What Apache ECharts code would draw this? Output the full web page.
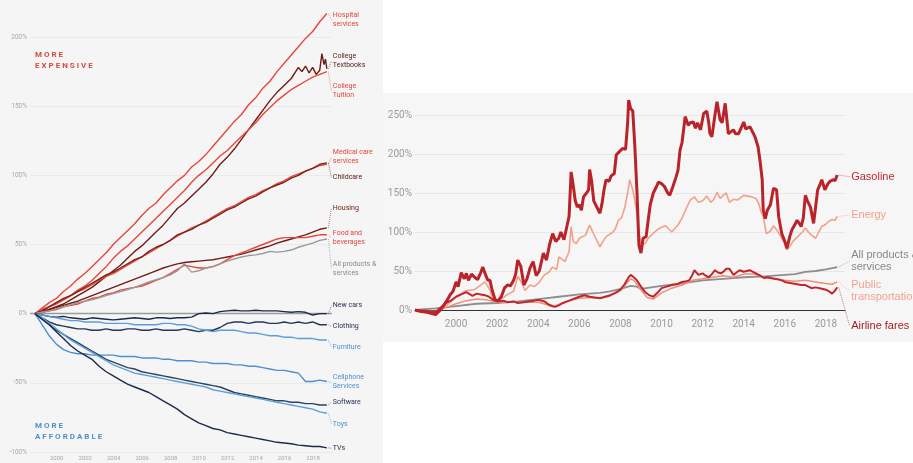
<!DOCTYPE html>
<html>
<head>
<meta charset="utf-8">
<script src="https://cdn.jsdelivr.net/npm/echarts@6/dist/echarts.min.js"></script>
<style>
  html, body { margin: 0; padding: 0; background: #ffffff; }
  #chart { width: 913px; height: 463px; }
</style>
</head>
<body>
<div id="chart"></div>
<script>
// ---------- Left panel: cumulative price change since 1998 (%) ----------
const leftYears = [1998, 1998.5, 1999, 1999.5, 2000, 2000.5, 2001, 2001.5, 2002, 2002.5,
  2003, 2003.5, 2004, 2004.5, 2005, 2005.5, 2006, 2006.5, 2007, 2007.5,
  2008, 2008.5, 2009, 2009.5, 2010, 2010.5, 2011, 2011.5, 2012, 2012.5,
  2013, 2013.5, 2014, 2014.5, 2015, 2015.5, 2016, 2016.5, 2017, 2017.5,
  2018, 2018.5];
const leftTickYears = [2000, 2002, 2004, 2006, 2008, 2010, 2012, 2014, 2016, 2018];
const leftValueTicks = [-100, -50, 0, 50, 100, 150, 200];

const hospitalServices = [0, 4, 8, 11, 16, 20, 25, 29, 34, 39, 44, 50, 55, 60, 65, 71, 76, 80, 86, 91,
  96, 100, 106, 110, 115, 121, 127, 133, 139, 144, 151, 156, 163, 168, 175, 181, 187, 193, 199, 204, 211, 217];
const collegeTuition = [0, 2, 5, 7, 10, 13, 17, 20, 24, 29, 34, 40, 45, 49, 54, 59, 64, 69, 74, 79,
  84, 89, 95, 100, 104, 109, 114, 118, 123, 128, 133, 138, 144, 149, 154, 158, 162, 165, 168, 171, 173, 175];
const textbookYears = [1998, 1998.5, 1999, 1999.5, 2000, 2000.5, 2001, 2001.5, 2002, 2002.5,
  2003, 2003.5, 2004, 2004.5, 2005, 2005.5, 2006, 2006.5, 2007, 2007.5,
  2008, 2008.5, 2009, 2009.5, 2010, 2010.5, 2011, 2011.5, 2012, 2012.5,
  2013, 2013.5, 2014, 2014.5, 2015, 2015.5, 2016, 2016.5, 2016.75, 2017, 2017.25, 2017.5, 2017.75,
  2018, 2018.15, 2018.3, 2018.4, 2018.5];
const collegeTextbooks = [0, 1, 3, 5, 7, 10, 13, 16, 19, 23, 27, 31, 35, 40, 45, 49, 54, 59, 64, 70,
  76, 80, 85, 90, 95, 101, 108, 113, 119, 126, 133, 140, 147, 154, 160, 165, 170, 178, 175, 179, 174, 178, 173,
  176, 188, 180, 184, 177];
const medicalCare = [0, 3, 5, 8, 10, 13, 16, 18, 21, 24, 27, 29, 32, 35, 38, 41, 44, 47, 50, 53,
  56, 59, 62, 64, 67, 70, 73, 76, 78, 81, 84, 86, 89, 91, 94, 96, 99, 101, 103, 105, 107, 108];
const childcare = [0, 2, 5, 8, 11, 13, 16, 19, 22, 25, 28, 30, 33, 36, 39, 41, 45, 48, 50, 53,
  57, 59, 61, 64, 66, 69, 72, 75, 77, 80, 83, 85, 88, 91, 93, 95, 98, 100, 103, 105, 108, 109];
const housing = [0, 1.5, 3, 4.5, 6, 7.5, 9, 11, 13, 15, 17, 19, 21, 23, 25, 27, 29, 31, 33, 34.5,
  36, 37, 37.5, 38, 38.5, 39, 40, 41, 42, 43, 44.5, 46, 47.5, 49, 51, 52.5, 54, 55.5, 57, 59, 61, 62];
const foodBeverages = [0, 1, 2, 3, 5, 6, 7, 9, 11, 12, 14, 15, 17, 18, 19, 20, 22, 24, 26, 29,
  32, 35, 34, 33, 33, 34, 36, 39, 42, 44, 46, 48, 50, 52, 54, 55, 55, 55, 55, 56, 57, 57];
const allProductsLeft = [0, 1, 2, 3.5, 5, 6.5, 8, 9, 10, 11.5, 13, 14.5, 16, 17.5, 19, 21, 23, 24.5, 26, 28,
  31, 36, 30, 31, 33, 34, 36, 38, 39.5, 41, 42, 42.5, 43.5, 45, 44.5, 45, 46, 48, 49.5, 51, 53, 54];
const newCars = [0, -1, -2, -2.5, -2, -3, -3.5, -4, -3, -3.5, -4, -4.5, -4, -3.5, -3, -3.5, -4, -3, -3, -3.5,
  -3, -3, -2.5, 0, 0.5, 0, 1.5, 2, 2.5, 2, 2, 2.5, 2, 2, 2, 1.5, 1, 1.5, 1, -1, 0, 0];
const clothing = [0, -3, -6, -8, -9, -10, -11, -11, -12, -12, -11, -12, -12, -11, -11, -12, -12, -11, -12, -12,
  -12, -11, -12, -13, -12, -12, -10, -7, -6, -6, -7, -6, -6, -7, -7, -6, -7, -6, -7, -6, -8, -8];
const furniture = [0, -1, -2, -3, -4, -5, -5, -6, -6, -6, -7, -7, -7, -7, -8, -8, -8, -8, -7, -7,
  -8, -8, -9, -11, -12, -13, -12, -12, -12, -13, -14, -14, -15, -16, -16, -17, -17, -18, -18, -18, -19, -19];
const cellphoneServices = [0, -8, -16, -22, -26, -28, -29, -29, -30, -30, -30, -30, -31, -31, -31, -32, -32, -32, -33, -33,
  -34, -34, -34, -35, -35, -36, -36, -36, -37, -37, -38, -38, -39, -40, -41, -41, -42, -43, -49, -49, -48, -49];
const software = [0, -4, -8, -12, -15, -18, -21, -24, -27, -30, -33, -35, -37, -39, -40, -42, -43, -44, -45, -46,
  -47, -48, -49, -50, -51, -52, -53, -55, -57, -58, -59, -60, -61, -62, -63, -63, -64, -64, -65, -65, -66, -66];
const toys = [0, -3, -7, -11, -15, -19, -22, -25, -28, -31, -34, -37, -39, -41, -43, -44, -45, -46, -47, -48,
  -49, -50, -51, -52, -53, -55, -56, -57, -58, -59, -60, -61, -62, -63, -64, -65, -66, -67, -68, -69, -71, -72];
const tvs = [0, -4, -8, -13, -18, -23, -27, -30, -33, -38, -42, -45, -48, -51, -53, -55, -57, -60, -63, -66,
  -69, -73, -76, -79, -81, -83, -84, -86, -87, -88, -89, -90, -91, -92, -93, -93.5, -94, -95, -95.5, -96, -96, -97];

// ---------- Right panel: energy and transport price change since 1998 (%) ----------
const rightTickYears = [2000, 2002, 2004, 2006, 2008, 2010, 2012, 2014, 2016, 2018];
const gasoline = [[1998.0,0],[1998.3,-2],[1998.6,-3],[1999.0,-6],[1999.2,-1],[1999.4,6],[1999.55,12],[1999.7,19],[1999.85,24],
  [2000.0,36],[2000.1,30],[2000.25,48],[2000.4,40],[2000.5,47],[2000.6,38],[2000.75,46],[2000.9,42],[2001.05,39],[2001.2,48],
  [2001.3,55],[2001.45,44],[2001.55,38],[2001.65,38],[2001.75,26],[2001.9,13],[2002.05,12],[2002.2,17],[2002.35,28],[2002.5,32],
  [2002.65,31],[2002.8,38],[2002.9,46],[2003.0,64],[2003.15,56],[2003.3,32],[2003.45,40],[2003.6,54],[2003.75,62],[2003.9,44],
  [2004.05,50],[2004.25,73],[2004.4,64],[2004.55,84],[2004.7,98],[2004.85,88],[2005.0,92],[2005.1,100],[2005.25,90],[2005.4,108],
  [2005.5,120],[2005.6,177],[2005.7,160],[2005.8,140],[2005.9,132],[2006.0,135],[2006.1,128],[2006.2,145],[2006.35,150],
  [2006.45,154],[2006.5,180],[2006.6,165],[2006.7,140],[2006.85,132],[2007.0,124],[2007.1,136],[2007.2,154],[2007.3,167],
  [2007.45,165],[2007.55,172],[2007.7,175],[2007.8,199],[2007.95,203],[2008.1,207],[2008.25,206],[2008.35,240],[2008.4,269],
  [2008.5,258],[2008.6,255],[2008.7,210],[2008.8,154],[2008.9,83],[2009.0,73],[2009.1,92],[2009.25,94],[2009.35,115],
  [2009.45,135],[2009.6,150],[2009.75,158],[2009.85,164],[2010.0,162],[2010.15,158],[2010.3,150],[2010.4,147],[2010.55,158],
  [2010.7,170],[2010.8,179],[2010.9,205],[2011.0,215],[2011.15,248],[2011.3,237],[2011.4,240],[2011.55,241],[2011.65,233],
  [2011.75,240],[2011.9,231],[2012.05,252],[2012.2,255],[2012.3,240],[2012.35,227],[2012.45,222],[2012.6,250],[2012.7,267],
  [2012.85,244],[2012.95,240],[2013.1,265],[2013.25,226],[2013.35,228],[2013.5,231],[2013.6,226],[2013.75,226],[2013.85,232],
  [2014.0,241],[2014.1,232],[2014.15,231],[2014.3,235],[2014.4,230],[2014.55,222],[2014.7,209],[2014.8,190],[2014.9,167],
  [2014.95,128],[2015.05,117],[2015.15,128],[2015.3,135],[2015.45,156],[2015.6,154],[2015.7,120],[2015.85,98],[2016.0,88],
  [2016.1,79],[2016.25,95],[2016.35,103],[2016.5,110],[2016.6,115],[2016.8,107],[2016.9,118],[2017.0,147],[2017.1,140],
  [2017.25,132],[2017.35,118],[2017.4,111],[2017.5,132],[2017.6,154],[2017.7,160],[2017.8,167],[2017.95,154],[2018.1,162],
  [2018.2,165],[2018.35,167],[2018.45,166],[2018.55,173]];
const energy = [[1998.0,0],[1998.5,-2],[1999.0,-3],[1999.5,5],[2000.0,17],[2000.3,22],[2000.5,25],[2000.9,26],[2001.2,32],
  [2001.4,36],[2001.6,28],[2001.8,15],[2002.0,13],[2002.3,16],[2002.5,20],[2002.8,24],[2003.0,43],[2003.2,35],[2003.35,25],
  [2003.6,32],[2003.8,30],[2004.0,34],[2004.3,45],[2004.5,48],[2004.7,55],[2004.9,52],[2005.0,68],[2005.3,62],[2005.5,75],
  [2005.6,107],[2005.7,88],[2005.85,85],[2006.0,92],[2006.3,96],[2006.5,109],[2006.65,100],[2006.8,92],[2007.0,81],[2007.15,88],
  [2007.3,94],[2007.6,99],[2007.75,104],[2007.9,115],[2008.05,118],[2008.2,130],[2008.35,150],[2008.45,167],[2008.6,154],
  [2008.7,140],[2008.8,124],[2008.9,100],[2009.0,85],[2009.2,85],[2009.35,92],[2009.5,96],[2009.8,103],[2010.0,106],[2010.2,108],
  [2010.5,100],[2010.8,109],[2011.0,118],[2011.2,130],[2011.4,141],[2011.6,145],[2011.8,138],[2012.0,140],[2012.2,146],
  [2012.4,138],[2012.55,142],[2012.7,151],[2012.85,143],[2013.0,147],[2013.15,150],[2013.3,138],[2013.5,142],[2013.7,141],
  [2013.85,144],[2014.0,147],[2014.2,146],[2014.4,145],[2014.6,143],[2014.75,135],[2014.85,125],[2014.95,120],[2015.1,98],
  [2015.3,101],[2015.45,108],[2015.6,103],[2015.8,94],[2016.0,85],[2016.1,77],[2016.25,82],[2016.4,88],[2016.7,96],[2016.85,100],
  [2017.0,105],[2017.15,100],[2017.3,96],[2017.5,92],[2017.65,100],[2017.8,107],[2018.0,110],[2018.1,113],[2018.3,116],
  [2018.45,115],[2018.55,120]];
const allProductsRight = [[1998.0,0],[1999.0,2],[2000.0,5],[2001.0,8],[2002.0,9],[2003.0,11],[2004.0,14],[2005.0,17],[2006.0,20],
  [2007.0,22],[2007.5,24],[2008.0,27],[2008.5,31],[2008.8,30],[2009.0,27],[2009.5,29],[2010.0,31],[2011.0,34],[2012.0,38],
  [2013.0,40],[2014.0,42],[2015.0,43],[2015.5,44],[2016.0,45],[2016.5,46],[2017.0,49],[2017.5,50],[2018.0,52],[2018.55,55]];
const publicTransport = [[1998.0,0],[1998.5,-1],[1999.0,-2],[1999.5,3],[2000.0,8],[2000.5,12],[2001.0,14],[2001.5,13],[2002.0,10],
  [2002.5,10],[2003.0,10],[2003.5,10],[2004.0,10],[2004.4,7],[2004.7,4],[2005.0,7],[2005.3,10],[2005.7,13],[2006.0,15],[2006.5,16],
  [2007.0,15],[2007.5,18],[2008.0,25],[2008.3,34],[2008.5,40],[2008.65,38],[2008.8,33],[2009.0,26],[2009.3,16],[2009.6,14],
  [2009.8,18],[2010.0,22],[2010.5,28],[2011.0,32],[2011.5,38],[2012.0,40],[2012.5,42],[2013.0,44],[2013.5,42],[2014.0,46],
  [2014.5,46],[2015.0,42],[2015.5,40],[2016.0,38],[2016.5,37],[2017.0,38],[2017.5,36],[2018.0,34],[2018.3,33],[2018.55,36]];
const airlineFares = [[1998.0,0],[1998.5,-1],[1999.0,-3],[1999.2,2],[1999.5,9],[1999.75,12],[2000.0,17],[2000.25,20],[2000.5,23],
  [2000.8,18],[2001.0,21],[2001.2,20],[2001.4,19],[2001.6,17],[2001.8,13],[2002.0,11],[2002.3,12],[2002.5,10],[2002.8,11],
  [2003.0,9],[2003.3,10],[2003.5,11],[2003.8,12],[2004.0,13],[2004.3,11],[2004.5,7],[2004.8,4],[2005.0,6],[2005.2,9],[2005.4,11],
  [2005.6,13],[2005.8,15],[2006.0,17],[2006.25,19],[2006.5,17],[2006.75,16],[2007.0,15],[2007.25,17],[2007.5,19],[2007.75,22],
  [2008.0,26],[2008.2,33],[2008.4,42],[2008.5,45],[2008.65,42],[2008.8,38],[2009.0,30],[2009.2,23],[2009.4,19],[2009.6,17],
  [2009.8,22],[2010.0,28],[2010.25,30],[2010.5,32],[2010.75,33],[2011.0,36],[2011.2,37],[2011.35,38],[2011.5,45],[2011.6,51],
  [2011.7,48],[2011.8,45],[2012.0,47],[2012.15,44],[2012.3,42],[2012.45,46],[2012.6,51],[2012.75,48],[2012.9,47],[2013.05,50],
  [2013.15,53],[2013.3,53],[2013.4,49],[2013.5,45],[2013.65,48],[2013.8,51],[2014.0,49],[2014.15,50],[2014.3,51],[2014.45,49],
  [2014.6,47],[2014.8,44],[2015.0,41],[2015.15,42],[2015.3,41],[2015.5,40],[2015.7,39],[2015.85,38],[2016.0,36],[2016.2,35],
  [2016.4,34],[2016.6,33],[2016.8,32],[2017.0,32],[2017.15,30],[2017.3,28],[2017.5,29],[2017.7,28],[2017.85,27],[2018.0,26],
  [2018.15,24],[2018.3,21],[2018.45,25],[2018.55,29]];

// ---------- Colours ----------
const RED = '#e8463b', DARK_RED = '#6e1d15', GREY = '#9a9a9a';
const NAVY = '#1c2a4a', SLATE = '#2c4462', BLUE = '#4d8fcf', LIGHT_BLUE = '#5c9fd8';
const GAS = '#b8242a', ENERGY = '#f3a08b', PUBLIC = '#ef8d78', AIRLINE = '#c0272d';

// Series of the left panel, with the vertical position of each end label (in %)
const leftSeries = [
  { name: 'Hospital services', x: leftYears, y: hospitalServices, color: RED, text: 'Hospital\nservices', tColor: '#e0473c', labelAt: 212.7 },
  { name: 'College Textbooks', x: textbookYears, y: collegeTextbooks, color: DARK_RED, text: 'College\nTextbooks', tColor: '#55201a', labelAt: 182.7 },
  { name: 'College Tuition', x: leftYears, y: collegeTuition, color: RED, text: 'College\nTuition', tColor: '#e0473c', labelAt: 160.9 },
  { name: 'Medical care services', x: leftYears, y: medicalCare, color: RED, text: 'Medical care\nservices', tColor: '#e0473c', labelAt: 113.3 },
  { name: 'Childcare', x: leftYears, y: childcare, color: '#7a2318', text: 'Childcare', tColor: '#55201a', labelAt: 98.3 },
  { name: 'Housing', x: leftYears, y: housing, color: DARK_RED, text: 'Housing', tColor: '#6b2019', labelAt: 75.9 },
  { name: 'Food and beverages', x: leftYears, y: foodBeverages, color: RED, text: 'Food and\nbeverages', tColor: '#e0473c', labelAt: 54.7 },
  { name: 'All products & services', x: leftYears, y: allProductsLeft, color: GREY, text: 'All products &\nservices', tColor: '#8a8a8a', labelAt: 32.8 },
  { name: 'New cars', x: leftYears, y: newCars, color: NAVY, text: 'New cars', tColor: '#1f2d4d', labelAt: 5.8 },
  { name: 'Clothing', x: leftYears, y: clothing, color: '#24375c', text: 'Clothing', tColor: '#1f2d4d', labelAt: -9.4 },
  { name: 'Furniture', x: leftYears, y: furniture, color: LIGHT_BLUE, text: 'Furniture', tColor: BLUE, labelAt: -24.3 },
  { name: 'Cellphone Services', x: leftYears, y: cellphoneServices, color: BLUE, text: 'Cellphone\nServices', tColor: BLUE, labelAt: -49.5 },
  { name: 'Software', x: leftYears, y: software, color: SLATE, text: 'Software', tColor: '#1f2d4d', labelAt: -64.1 },
  { name: 'Toys', x: leftYears, y: toys, color: LIGHT_BLUE, text: 'Toys', tColor: BLUE, labelAt: -79.8 },
  { name: 'TVs', x: leftYears, y: tvs, color: NAVY, text: 'TVs', tColor: '#1f2d4d', labelAt: -97.3 }
];

// Series of the right panel
const rightSeries = [
  { name: 'All products & services ', data: allProductsRight, color: '#8e8e8e', width: 1.8, text: 'All products &\nservices', tColor: '#888888', labelAt: 62.8 },
  { name: 'Energy', data: energy, color: ENERGY, width: 1.6, text: 'Energy', tColor: '#f2a08c', labelAt: 121.8 },
  { name: 'Public transportation', data: publicTransport, color: PUBLIC, width: 1.5, text: 'Public\ntransportation', tColor: '#f3a28f', labelAt: 24.4 },
  { name: 'Airline fares', data: airlineFares, color: AIRLINE, width: 2, text: 'Airline fares', tColor: '#a81c20', labelAt: -20.5 },
  { name: 'Gasoline', data: gasoline, color: GAS, width: 3, text: 'Gasoline', tColor: '#c0292e', labelAt: 170.9 }
];

const chart = echarts.init(document.getElementById('chart'), null, { renderer: 'canvas' });

const series = [];
leftSeries.forEach(function (s, i) {
  const item = {
    name: s.name, type: 'line', xAxisIndex: 0, yAxisIndex: 0,
    data: s.x.map(function (yr, k) { return [yr, s.y[k]]; }),
    showSymbol: false, symbol: 'none', clip: false, silent: true,
    lineStyle: { color: s.color, width: 1.4 }, z: 3 + i
  };
  if (i === 0) {
    item.markLine = {
      silent: true, symbol: 'none', label: { show: false },
      lineStyle: { color: '#9c9c9c', width: 1.4, type: 'solid' },
      data: [{ yAxis: 0 }], z: 2
    };
  }
  series.push(item);
});
rightSeries.forEach(function (s, i) {
  series.push({
    name: s.name, type: 'line', xAxisIndex: 1, yAxisIndex: 1,
    data: s.data, showSymbol: false, symbol: 'none', clip: false, silent: true,
    lineStyle: { color: s.color, width: s.width }, z: 3 + i
  });
});

const axisFont = 'Roboto';
chart.setOption({
  animation: false,
  backgroundColor: '#ffffff',
  grid: [
    { left: 30, top: 37, width: 302, height: 415 },
    { left: 415, top: 115, width: 430, height: 195 }
  ],
  xAxis: [
    {
      type: 'value', gridIndex: 0, min: 1997.65, max: 2018.86,
      axisLine: { show: false }, axisTick: { show: false }, splitLine: { show: false },
      axisLabel: {
        customValues: leftTickYears, formatter: function (v) { return String(v); },
        fontSize: 6, color: '#a8a8a8', fontFamily: axisFont, align: 'right', margin: 3
      }
    },
    {
      type: 'value', gridIndex: 1, min: 1998, max: 2018.93,
      axisLine: { show: true, onZero: true, lineStyle: { color: '#333333', width: 1 } },
      axisTick: { show: false }, splitLine: { show: false },
      axisLabel: {
        customValues: rightTickYears, formatter: function (v) { return String(v); },
        fontSize: 10, color: '#9a9a9a', fontFamily: axisFont, margin: 9
      }
    }
  ],
  yAxis: [
    {
      type: 'value', gridIndex: 0, min: -100, max: 200, interval: 50,
      axisLine: { show: false }, axisTick: { show: false },
      splitLine: { show: true, lineStyle: { color: '#e7e7e7', width: 0.8 } },
      axisLabel: {
        formatter: function (v) { return leftValueTicks.indexOf(v) >= 0 ? v + '%' : ''; },
        fontSize: 6.5, color: '#a8a8a8', fontFamily: axisFont, margin: 3
      }
    },
    {
      type: 'value', gridIndex: 1, min: 0, max: 250, interval: 50,
      axisLine: { show: false }, axisTick: { show: false },
      splitLine: { show: true, lineStyle: { color: '#e6e6e6', width: 1 } },
      axisLabel: { formatter: '{value}%', fontSize: 10, color: '#9a9a9a', fontFamily: axisFont, margin: 3 }
    }
  ],
  series: series
});

// ---------- Panel backgrounds, captions and end labels ----------
const graphics = [
  { type: 'rect', id: 'bgLeft', z: -100, silent: true, shape: { x: 0, y: 0, width: 383, height: 463 }, style: { fill: '#f5f5f5' } },
  { type: 'rect', id: 'bgRight', z: -100, silent: true, shape: { x: 383, y: 93, width: 530, height: 249 }, style: { fill: '#f6f6f6' } },
  { type: 'text', id: 'capUp', z: 50, silent: true, x: 35, y: 49,
    style: { text: 'M O R E\nE X P E N S I V E', fill: '#d84a3e', font: 'bold 8px Roboto', lineHeight: 11 } },
  { type: 'text', id: 'capDown', z: 50, silent: true, x: 35, y: 420,
    style: { text: 'M O R E\nA F F O R D A B L E', fill: '#4f8fcd', font: 'bold 8px Roboto', lineHeight: 11 } }
];

function addEndLabel(s, last, finder, dx, font, lineH, idx) {
  const endPx = chart.convertToPixel(finder, last);
  const labPx = chart.convertToPixel(finder, [last[0], s.labelAt]);
  const tx = endPx[0] + dx;
  graphics.push({
    type: 'polyline', id: 'lead' + idx, z: 40, silent: true,
    shape: { points: [[endPx[0] + 1.5, endPx[1]], [tx - 1.5, labPx[1]]] },
    style: { stroke: s.tColor, lineWidth: 0.6, lineDash: [1, 1], fill: null }
  });
  graphics.push({
    type: 'text', id: 'lab' + idx, z: 50, silent: true, x: tx, y: labPx[1],
    style: { text: s.text, fill: s.tColor, font: font, lineHeight: lineH, textVerticalAlign: 'middle', verticalAlign: 'middle' }
  });
}

leftSeries.forEach(function (s, i) {
  const last = [s.x[s.x.length - 1], s.y[s.y.length - 1]];
  addEndLabel(s, last, { xAxisIndex: 0, yAxisIndex: 0 }, 6, '7px Roboto', 9, 'L' + i);
});
rightSeries.forEach(function (s, i) {
  const last = s.data[s.data.length - 1];
  addEndLabel(s, last, { xAxisIndex: 1, yAxisIndex: 1 }, 14, '11px "Liberation Sans", Arial, sans-serif', 12, 'R' + i);
});

chart.setOption({ graphic: graphics });
</script>
</body>
</html>
